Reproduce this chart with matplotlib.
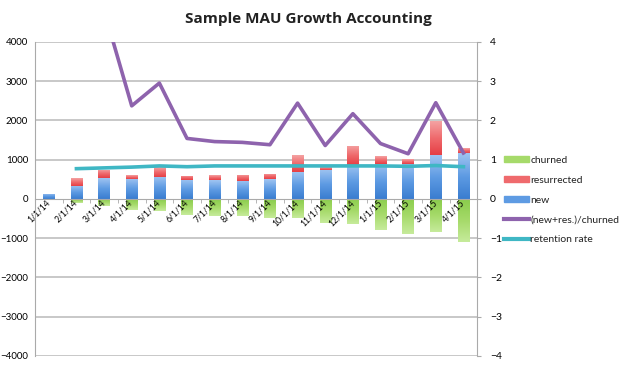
import numpy as np
import matplotlib.pyplot as plt
from matplotlib.colors import LinearSegmentedColormap
from matplotlib.lines import Line2D
from matplotlib.patches import Patch
import matplotlib.transforms as mtransforms

months = ['1/1/14', '2/1/14', '3/1/14', '4/1/14', '5/1/14', '6/1/14', '7/1/14', '8/1/14',
          '9/1/14', '10/1/14', '11/1/14', '12/1/14', '1/1/15', '2/1/15', '3/1/15', '4/1/15']
new = [130, 340, 525, 510, 570, 490, 475, 465, 500, 695, 745, 870, 900, 900, 1120, 1170]
resurrected = [0, 180, 210, 100, 235, 105, 125, 155, 135, 425, 65, 490, 200, 115, 860, 120]
churned = [-20, -95, -170, -280, -305, -405, -425, -432, -475, -475, -620, -645, -790, -900, -830, -1090]
ratio = [np.nan, 5.5, 4.8, 2.37, 2.95, 1.54, 1.46, 1.44, 1.38, 2.44, 1.36, 2.17, 1.41, 1.15, 2.45, 1.17]
retention = [np.nan, 0.77, 0.79, 0.81, 0.84, 0.82, 0.84, 0.84, 0.84, 0.84, 0.84, 0.84, 0.84, 0.83, 0.85, 0.82]

# gradients run from bottom colour to top colour
grad_new = LinearSegmentedColormap.from_list('n', ['#3a7dd0', '#5e9be3', '#9fc4f1'])
grad_res = LinearSegmentedColormap.from_list('r', ['#e63f45', '#ef6a6d', '#f4a2a2'])
grad_churn = LinearSegmentedColormap.from_list('c', ['#c6eb9b', '#a6da6a', '#8acd4c'])
c_ratio = '#8e63ad'
c_ret = '#3fb7c4'

plt.rcParams['font.family'] = ['Lato', 'DejaVu Sans']
plt.rcParams['text.color'] = '#222222'

fig = plt.figure(figsize=(6.19, 3.67), dpi=100)
ax = fig.add_axes([0.0565, 0.030, 0.7145, 0.856])
x = np.arange(len(months))
W = 0.41


def gradient_bars(xs, heights, bottoms, cmap):
    bars = ax.bar(xs, heights, width=W, bottom=bottoms, color='none', zorder=1)
    grad = np.linspace(0, 1, 64).reshape(-1, 1)
    for b in bars:
        h = b.get_height()
        if h == 0:
            continue
        x0, y0 = b.get_x(), b.get_y()
        img = ax.imshow(grad, cmap=cmap, origin='lower', aspect='auto', zorder=1,
                        extent=[x0, x0 + b.get_width(), min(y0, y0 + h), max(y0, y0 + h)],
                        interpolation='bilinear')
        img.set_clip_path(b)
    return bars


gradient_bars(x, new, 0, grad_new)
gradient_bars(x, resurrected, new, grad_res)
gradient_bars(x, churned, 0, grad_churn)

ax.set_ylim(-4000, 4000)
ax.set_xlim(-0.5, len(months) - 0.5)
ax.set_yticks(range(-4000, 4001, 1000))
for v in range(-4000, 4001, 1000):
    if v != 0:
        ax.axhline(v, color='#c4c4c4', linewidth=1.3, zorder=0.5)
ax.tick_params(axis='y', labelsize=7, length=0, pad=5)
for s in ['top', 'right']:
    ax.spines[s].set_visible(False)
ax.spines['left'].set_color('#aaaaaa')
ax.spines['bottom'].set_position(('data', 0))
ax.spines['bottom'].set_color('#aaaaaa')
ax.set_xticks(x)
ax.set_xticklabels(months, rotation=45, ha='right', va='center', rotation_mode='anchor', fontsize=6.2)
offset = mtransforms.ScaledTranslation(3 / 100, -6 / 100, fig.dpi_scale_trans)
for lab in ax.get_xticklabels():
    lab.set_transform(lab.get_transform() + offset)
ax.tick_params(axis='x', length=0, pad=2)
ax.set_xticks(np.arange(-0.5, len(months), 1), minor=True)
ax.tick_params(axis='x', which='minor', length=3, color='#aaaaaa', direction='out')

ax2 = ax.twinx()
ax2.plot(x, ratio, color=c_ratio, linewidth=2.6)
ax2.plot(x, retention, color=c_ret, linewidth=2.6)
ax2.set_ylim(-4, 4)
ax2.set_yticks(range(-4, 5))
ax2.tick_params(axis='y', labelsize=7.5, length=3, color='#aaaaaa', pad=6)
for s in ['top', 'left', 'bottom']:
    ax2.spines[s].set_visible(False)
ax2.spines['right'].set_color('#aaaaaa')

fig.text(0.4976, 0.948, 'Sample MAU Growth Accounting', ha='center', va='center',
         fontsize=11, fontweight='bold', family='Open Sans')

handles = [Patch(color='#a6da6a'), Patch(color='#ef6a6d'), Patch(color='#5e9be3'),
           Line2D([], [], color=c_ratio, linewidth=3), Line2D([], [], color=c_ret, linewidth=3)]
labels = ['churned', 'resurrected', 'new', '(new+res.)/churned', 'retention rate']
fig.legend(handles, labels, loc='upper left', bbox_to_anchor=(0.808, 0.587), frameon=False,
           fontsize=7.5, handlelength=2.4, handleheight=0.45, handletextpad=0.1, labelspacing=1.05,
           borderaxespad=0)

fig.savefig('out.png', dpi=100)
